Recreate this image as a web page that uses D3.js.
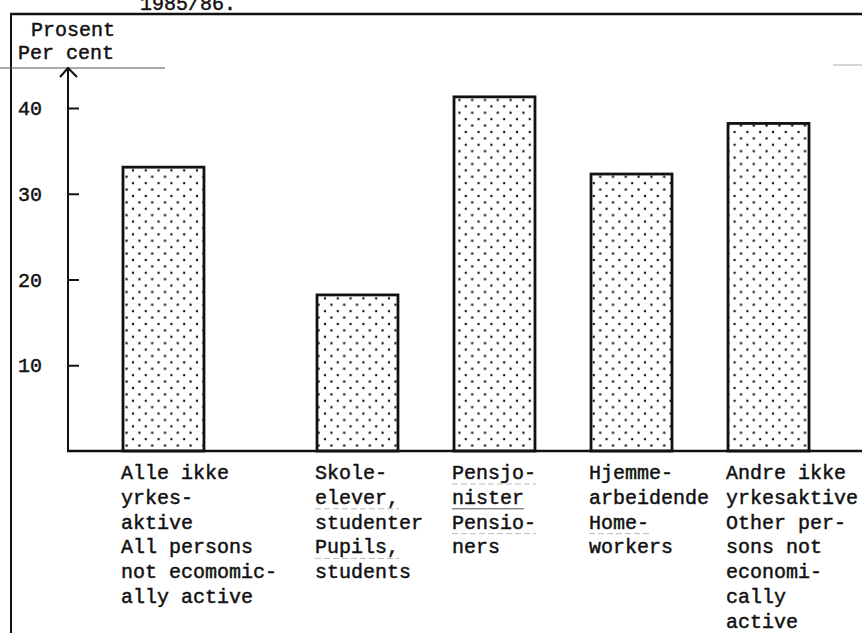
<!DOCTYPE html>
<html>
<head>
<meta charset="utf-8">
<script src="https://cdn.jsdelivr.net/npm/d3@7"></script>
<style>
  html, body { margin: 0; padding: 0; background: #fff; }
  svg { display: block; }
  text { font-family: "Liberation Mono", "DejaVu Sans Mono", monospace; fill: #111; stroke: #111; stroke-width: 0.45px; }
</style>
</head>
<body>
<div id="chart"></div>
<script>
// --- data ---
const categories = ['alle', 'skole', 'pensjon', 'hjemme', 'andre'];
const values = [33.1, 18.2, 41.3, 32.3, 38.2];
const yTicks = [10, 20, 30, 40];
const categoryLabels = [
    ['Alle ikke', 'yrkes-', 'aktive', 'All persons', 'not ecomomic-', 'ally active'],
    ['Skole-', 'elever,', 'studenter', 'Pupils,', 'students'],
    ['Pensjo-', 'nister', 'Pensio-', 'ners'],
    ['Hjemme-', 'arbeidende', 'Home-', 'workers'],
    ['Andre ikke', 'yrkesaktive', 'Other per-', 'sons not', 'economi-', 'cally', 'active']
];
const unitLabels = ['Prosent', 'Per cent'];
const titleFragment = '1985/86.';
// typewriter underlines that show faintly in the scan
const underlined = ['elever,', 'Pupils,', 'Pensjo-', 'nister', 'Pensio-', 'Home-'];

const W = 862, H = 633;
const svg = d3.select('#chart').append('svg')
    .attr('width', W).attr('height', H);

svg.append('rect').attr('width', W).attr('height', H).attr('fill', '#fff');

// dotted fill like the printed screen tone
const defs = svg.append('defs');
const pat = defs.append('pattern')
    .attr('id', 'dots')
    .attr('patternUnits', 'userSpaceOnUse')
    .attr('width', 12.8).attr('height', 12.8)
    .attr('x', 2).attr('y', 1);
pat.append('rect').attr('width', 12.8).attr('height', 12.8).attr('fill', '#fff');
pat.append('circle').attr('cx', 3).attr('cy', 3).attr('r', 1.2).attr('fill', '#111');
pat.append('circle').attr('cx', 9.4).attr('cy', 9.4).attr('r', 1.2).attr('fill', '#111');

// scales
const axisX = 68;
const y = d3.scaleLinear().domain([0, 40]).range([451, 108]);
const x = d3.scaleBand().domain(categories).range([123, 752]).paddingInner(0.409).paddingOuter(0);
const groupGap = 57; // extra space after the "all" bar
const barX = (d, i) => x(d) + (i > 0 ? groupGap : 0);

// title fragment cut off at top of the page
svg.append('text')
    .attr('x', 140).attr('y', 10)
    .attr('font-size', '20px')
    .text(titleFragment);

// frame
svg.append('line')
    .attr('x1', 10).attr('x2', W).attr('y1', 14).attr('y2', 14)
    .attr('stroke', '#111').attr('stroke-width', 2.5);
svg.append('line')
    .attr('x1', 11).attr('x2', 11).attr('y1', 13).attr('y2', H)
    .attr('stroke', '#111').attr('stroke-width', 2);

// unit label + rule under it
unitLabels.forEach((t, i) => {
    svg.append('text')
        .attr('x', i === 0 ? 31 : 18)
        .attr('y', 36 + i * 23)
        .attr('font-size', '20px')
        .text(t);
});
svg.append('line')
    .attr('x1', 0).attr('x2', 165).attr('y1', 68).attr('y2', 68)
    .attr('stroke', '#555').attr('stroke-width', 1);
svg.append('line')
    .attr('x1', 833).attr('x2', W).attr('y1', 65).attr('y2', 65)
    .attr('stroke', '#aaa').attr('stroke-width', 1);

// bars
svg.append('g').selectAll('rect')
    .data(values)
    .join('rect')
    .attr('x', (d, i) => barX(categories[i], i))
    .attr('y', d => y(d))
    .attr('width', x.bandwidth())
    .attr('height', d => y(0) - y(d))
    .attr('fill', 'url(#dots)')
    .attr('stroke', '#111')
    .attr('stroke-width', 2.8);

// y axis with inward ticks and arrow
const yAxis = svg.append('g')
    .attr('transform', `translate(${axisX},0)`)
    .call(d3.axisRight(y).tickValues(yTicks).tickSize(11).tickFormat(''));
yAxis.select('.domain').remove();
yAxis.selectAll('.tick line').attr('stroke', '#111').attr('stroke-width', 2);

svg.append('line')
    .attr('x1', axisX).attr('x2', axisX).attr('y1', 69).attr('y2', y(0))
    .attr('stroke', '#111').attr('stroke-width', 2);
svg.append('path')
    .attr('d', `M${axisX - 8},77 L${axisX},68 L${axisX + 9},77`)
    .attr('fill', 'none').attr('stroke', '#111').attr('stroke-width', 2);

svg.append('g').selectAll('text')
    .data(yTicks)
    .join('text')
    .attr('x', 18)
    .attr('y', d => y(d))
    .attr('dy', '0.35em')
    .attr('font-size', '20px')
    .text(d => d);

// baseline
svg.append('line')
    .attr('x1', axisX - 1).attr('x2', W).attr('y1', y(0)).attr('y2', y(0))
    .attr('stroke', '#111').attr('stroke-width', 2.5);

// category labels under the bars
const lineH = 24.8;
categoryLabels.forEach((lines, i) => {
    const lx = barX(categories[i], i) - 2;
    lines.forEach((t, j) => {
        const ty = 479 + j * lineH;
        svg.append('text')
            .attr('x', lx).attr('y', ty)
            .attr('font-size', '20px')
            .text(t);
        if (underlined.includes(t)) {
            svg.append('line')
                .attr('x1', lx).attr('x2', lx + t.length * 12)
                .attr('y1', ty + 5).attr('y2', ty + 5)
                .attr('stroke', t === 'nister' ? '#555' : '#bbb')
                .attr('stroke-width', 1)
                .attr('stroke-dasharray', t === 'nister' ? null : '6 3');
        }
    });
});
</script>
</body>
</html>
